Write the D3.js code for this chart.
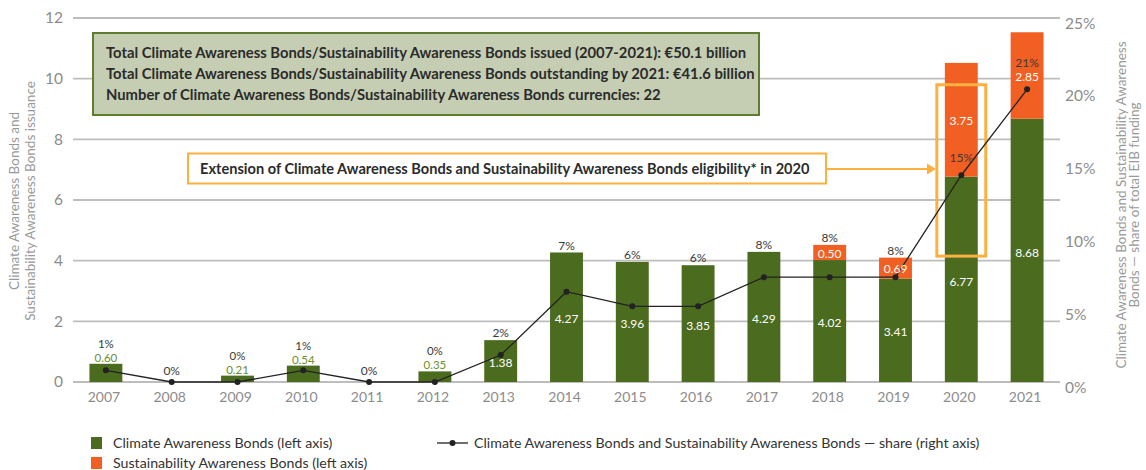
<!DOCTYPE html>
<html>
<head>
    <title>Climate Awareness Bonds</title>
    <script src="https://d3js.org/d3.v7.min.js"></script>
    <style>
        body { margin: 0; background: #fff; }
        svg { font-family: Lato, 'Open Sans', sans-serif; }
        .tick-lbl { fill: #8c8c8c; }
    </style>
</head>
<body>
    <svg id="chart" width="1146" height="470"></svg>

    <script>
        // data
        var years = ["2007","2008","2009","2010","2011","2012","2013","2014","2015","2016","2017","2018","2019","2020","2021"];
        var climateBonds = [0.60, 0, 0.21, 0.54, 0, 0.35, 1.38, 4.27, 3.96, 3.85, 4.29, 4.02, 3.41, 6.77, 8.68];
        var sustainBonds = [0, 0, 0, 0, 0, 0, 0, 0, 0, 0, 0, 0.50, 0.69, 3.75, 2.85];
        var sharePct = [0.8, 0, 0, 0.8, 0, 0, 1.85, 6.2, 5.2, 5.2, 7.2, 7.2, 7.2, 14.2, 20.1];
        var shareLabels = ["1%","0%","0%","1%","0%","0%","2%","7%","6%","6%","8%","8%","8%","15%","21%"];
        var leftTicks = [0, 2, 4, 6, 8, 10, 12];
        var rightTicks = [0, 5, 10, 15, 20, 25];

        var green = "#4b6b1f", orange = "#f15f22", lightOrange = "#fbb040";

        var svg = d3.select("#chart");

        var x = d3.scaleBand().domain(years).range([73, 1060]).paddingInner(0.5).paddingOuter(0.25);
        var yL = d3.scaleLinear().domain([0, 12]).range([382, 18]);
        var yR = d3.scaleLinear().domain([0, 25]).range([382, 18]);

        // gridlines
        svg.append("g").selectAll("line").data(leftTicks).enter().append("line")
            .attr("x1", 73).attr("x2", 1060)
            .attr("y1", function(d){ return yL(d); })
            .attr("y2", function(d){ return yL(d); })
            .attr("stroke", "#bdbdbd").attr("stroke-width", 1.8);

        // left axis
        var leftAxis = svg.append("g").attr("transform", "translate(73,0)")
            .call(d3.axisLeft(yL).tickValues(leftTicks).tickSize(0).tickPadding(10));
        leftAxis.select(".domain").remove();
        leftAxis.selectAll("text").attr("class", "tick-lbl").style("font-size", "15.5px").style("font-family", "Lato, sans-serif");

        // right axis
        var rightAxis = svg.append("g").attr("transform", "translate(1060,0)")
            .call(d3.axisRight(yR).tickValues(rightTicks).tickSize(0).tickPadding(5)
                .tickFormat(function(d){ return d + "%"; }));
        rightAxis.select(".domain").remove();
        rightAxis.selectAll("text").attr("class", "tick-lbl").attr("dy", "0.65em")
            .style("font-size", "15.5px").style("font-family", "Lato, sans-serif");

        // bottom axis
        var bottomAxis = svg.append("g").attr("transform", "translate(0,382)")
            .call(d3.axisBottom(x).tickSize(0).tickPadding(10));
        bottomAxis.select(".domain").remove();
        bottomAxis.selectAll("text").attr("class", "tick-lbl").attr("dx", "-2")
            .style("font-size", "14px").style("font-family", "Lato, sans-serif");

        // axis titles
        var lt = svg.append("text").attr("transform", "translate(0,201) rotate(-90)")
            .attr("text-anchor", "middle").attr("fill", "#999").style("font-size", "13.5px");
        lt.append("tspan").attr("x", 0).attr("y", 19).text("Climate Awareness Bonds and");
        lt.append("tspan").attr("x", 0).attr("y", 35).text("Sustainability Awareness Bonds issuance");

        var rt = svg.append("text").attr("transform", "translate(0,205) rotate(-90)")
            .attr("text-anchor", "middle").attr("fill", "#999").style("font-size", "13.5px");
        rt.append("tspan").attr("x", 0).attr("y", 1126).text("Climate Awareness Bonds and Sustainability Awareness");
        rt.append("tspan").attr("x", 0).attr("y", 1139).text("Bonds \u2014 share of total EIB funding");

        var rows = years.map(function(y, i){
            return { year: y, cab: climateBonds[i], sab: sustainBonds[i], share: sharePct[i], label: shareLabels[i] };
        });

        // bars
        var bars = svg.append("g");
        bars.selectAll(".cab").data(rows).enter().append("rect")
            .attr("x", function(d){ return x(d.year); })
            .attr("width", x.bandwidth())
            .attr("y", function(d){ return yL(d.cab); })
            .attr("height", function(d){ return yL(0) - yL(d.cab); })
            .attr("fill", green);
        bars.selectAll(".sab").data(rows.filter(function(d){ return d.sab > 0; })).enter().append("rect")
            .attr("x", function(d){ return x(d.year); })
            .attr("width", x.bandwidth())
            .attr("y", function(d){ return yL(d.cab + d.sab); })
            .attr("height", function(d){ return yL(d.cab) - yL(d.cab + d.sab); })
            .attr("fill", orange);

        // 2020 highlight + annotations
        svg.append("rect")
            .attr("x", x("2020") - 8).attr("y", yL(9.8))
            .attr("width", x.bandwidth() + 16).attr("height", yL(4.15) - yL(9.8))
            .attr("fill", "none").attr("stroke", lightOrange).attr("stroke-width", 3);

        svg.append("rect").attr("x", 93).attr("y", 33).attr("width", 666).attr("height", 82)
            .attr("fill", "#c5ceb3").attr("stroke", "#5f7d2e").attr("stroke-width", 2);
        var info = [
            "Total Climate Awareness Bonds/Sustainability Awareness Bonds issued (2007-2021): \u20ac50.1 billion",
            "Total Climate Awareness Bonds/Sustainability Awareness Bonds outstanding by 2021: \u20ac41.6 billion",
            "Number of Climate Awareness Bonds/Sustainability Awareness Bonds currencies: 22"
        ];
        svg.append("g").selectAll("text").data(info).enter().append("text")
            .attr("x", 106).attr("y", function(d, i){ return 53 + i * 20.7; })
            .attr("dy", "0.35em").attr("fill", "#2b2b2b")
            .style("font-size", "14.8px").style("font-weight", "bold")
            .text(function(d){ return d; });

        svg.append("rect").attr("x", 188).attr("y", 153.5).attr("width", 638).attr("height", 30)
            .attr("fill", "#fff").attr("stroke", lightOrange).attr("stroke-width", 2);
        svg.append("text").attr("x", 200).attr("y", 169).attr("dy", "0.35em")
            .attr("fill", "#2b2b2b").style("font-size", "14.6px").style("font-weight", "bold")
            .text("Extension of Climate Awareness Bonds and Sustainability Awareness Bonds eligibility* in 2020");
        svg.append("line").attr("x1", 827).attr("x2", 928).attr("y1", 169).attr("y2", 169)
            .attr("stroke", lightOrange).attr("stroke-width", 2);
        svg.append("path").attr("d", "M927,163.5 L936,169 L927,174.5 Z").attr("fill", lightOrange);

        // share line
        var line = d3.line()
            .x(function(d){ return x(d.year) + x.bandwidth() / 2; })
            .y(function(d){ return yR(d.share); });
        svg.append("path").datum(rows).attr("d", line)
            .attr("fill", "none").attr("stroke", "#222").attr("stroke-width", 1.3);
        svg.append("g").selectAll("circle").data(rows).enter().append("circle")
            .attr("cx", function(d){ return x(d.year) + x.bandwidth() / 2; })
            .attr("cy", function(d){ return yR(d.share); })
            .attr("r", 3).attr("fill", "#222");

        // value labels
        var labels = svg.append("g").attr("text-anchor", "middle").style("font-size", "12px");
        rows.forEach(function(d){
            var cx = x(d.year) + x.bandwidth() / 2;
            var top = yL(d.cab + d.sab);
            if (d.cab === 0) {
                labels.append("text").attr("x", cx).attr("y", yL(0) - 11).attr("dy", "0.35em")
                    .attr("fill", "#3a3a3a").text(d.label);
                return;
            }
            if (d.cab < 1) {
                labels.append("text").attr("x", cx).attr("y", top - 6).attr("dy", "0.35em")
                    .style("font-size", "11.5px").attr("fill", "#6b8e2e").text(d.cab.toFixed(2));
                labels.append("text").attr("x", cx).attr("y", top - 20).attr("dy", "0.35em")
                    .style("font-size", "11.5px").attr("fill", "#3a3a3a").text(d.label);
                return;
            }
            labels.append("text").attr("x", cx).attr("y", (yL(0) + yL(d.cab)) / 2 + 2).attr("dy", "0.35em")
                .attr("fill", "#fff").text(d.cab.toFixed(2));
            var sabY = null;
            if (d.sab > 0) {
                sabY = (yL(d.cab) + top) / 2 + 1;
                labels.append("text").attr("x", cx).attr("y", sabY).attr("dy", "0.35em")
                    .attr("fill", "#fff").text(d.sab.toFixed(2));
            }
            var ly = top - 7;
            if (d.cab + d.sab > 10) {
                // share label sits next to the dot inside the bar
                ly = yR(d.share) - 17;
                if (sabY !== null && Math.abs(ly - sabY) < 14) ly = sabY - 14;
            }
            labels.append("text").attr("x", cx).attr("y", ly).attr("dy", "0.35em")
                .attr("fill", "#3a3a3a").text(d.label);
        });

        // legend
        var lg = svg.append("g").style("font-size", "14.2px").attr("fill", "#333");
        lg.append("rect").attr("x", 91).attr("y", 437).attr("width", 11).attr("height", 12).attr("fill", green);
        lg.append("text").attr("x", 113).attr("y", 443).attr("dy", "0.35em").text("Climate Awareness Bonds (left axis)");
        lg.append("rect").attr("x", 91).attr("y", 457).attr("width", 11).attr("height", 12).attr("fill", orange);
        lg.append("text").attr("x", 113).attr("y", 463).attr("dy", "0.35em").text("Sustainability Awareness Bonds (left axis)");
        lg.append("line").attr("x1", 437).attr("x2", 468).attr("y1", 443).attr("y2", 443)
            .attr("stroke", "#222").attr("stroke-width", 1.3);
        lg.append("circle").attr("cx", 452.5).attr("cy", 443).attr("r", 3).attr("fill", "#222");
        lg.append("text").attr("x", 474).attr("y", 443).attr("dy", "0.35em")
            .text("Climate Awareness Bonds and Sustainability Awareness Bonds \u2014 share (right axis)");
    </script>
</body>
</html>
